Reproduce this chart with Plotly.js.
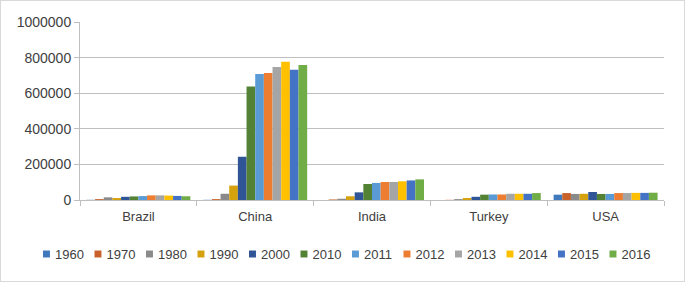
<!DOCTYPE html>
<html>
<head>
<meta charset="utf-8">
<script src="https://cdn.plot.ly/plotly-3.0.1.min.js"></script>
<style>
  html, body { margin: 0; padding: 0; background: #fff; }
  #wrap { position: relative; width: 685px; height: 282px; }
  #chart { width: 685px; height: 282px; }
  #frame { position: absolute; left: 0; top: 0; width: 685px; height: 282px; box-sizing: border-box; border: 1px solid #D9D9D9; pointer-events: none; }
</style>
</head>
<body>
<div id="wrap"><div id="chart"></div><div id="frame"></div></div>
<script>
const countries = ["Brazil", "China", "India", "Turkey", "USA"];
const years = ["1960", "1970", "1980", "1990", "2000", "2010", "2011", "2012", "2013", "2014", "2015", "2016"];
const v1960 = [1000, 1000, 0, 0, 30000];
const v1970 = [5000, 5000, 3000, 1000, 39000];
const v1980 = [15000, 35000, 7000, 5000, 34000];
const v1990 = [11000, 81000, 21000, 11000, 35000];
const v2000 = [18000, 243000, 43000, 18000, 45000];
const v2010 = [20000, 638000, 90000, 30000, 34000];
const v2011 = [22000, 708000, 96000, 31000, 34000];
const v2012 = [26000, 713000, 101000, 31000, 39000];
const v2013 = [26000, 747000, 101000, 35000, 39000];
const v2014 = [25000, 776000, 105000, 35000, 40000];
const v2015 = [23000, 732000, 110000, 35000, 40000];
const v2016 = [21000, 758000, 116000, 39000, 41000];
const seriesValues = [v1960, v1970, v1980, v1990, v2000, v2010, v2011, v2012, v2013, v2014, v2015, v2016];
const colors = ["#4179BD", "#C9622A", "#8A8A8A", "#D5A20E", "#2F5597", "#548235",
                "#5B9BD5", "#ED7D31", "#A5A5A5", "#FFC000", "#4472C4", "#70AD47"];
const yTicks = [0, 200000, 400000, 600000, 800000, 1000000];

const traces = years.map((y, i) => ({
  type: "bar",
  name: y,
  x: countries,
  y: seriesValues[i],
  marker: { color: colors[i], line: { width: 0 } },
  hoverinfo: "x+y+name"
}));

const font = { family: "Liberation Sans, Arial, sans-serif", size: 13, color: "#404040" };
const yfont = { family: "Liberation Sans, Arial, sans-serif", size: 14, color: "#404040" };

const layout = {
  width: 685,
  height: 282,
  margin: { l: 80, r: 21, t: 22, b: 82, autoexpand: false },
  paper_bgcolor: "#ffffff",
  plot_bgcolor: "#ffffff",
  font: font,
  barmode: "group",
  bargap: 0.11,
  bargroupgap: 0,
  showlegend: true,
  legend: {
    orientation: "h",
    xref: "container", yref: "container",
    x: 0, xanchor: "left",
    y: 0.1, yanchor: "middle",
    font: font,
    bgcolor: "rgba(0,0,0,0)",
    entrywidth: 6.5,
    entrywidthmode: "pixels",
    traceorder: "normal"
  },
  xaxis: {
    type: "category",
    showgrid: false,
    showline: true,
    linecolor: "#BFBFBF",
    linewidth: 1,
    ticks: "outside",
    tickson: "boundaries",
    ticklen: 5,
    tickcolor: "#BFBFBF",
    tickfont: font,
    ticklabelstandoff: 4,
    zeroline: false,
    fixedrange: true
  },
  yaxis: {
    range: [0, 1000000],
    tickvals: yTicks,
    ticktext: yTicks.map(String),
    showgrid: true,
    gridcolor: "#BFBFBF",
    gridwidth: 1,
    showline: true,
    linecolor: "#BFBFBF",
    ticks: "outside",
    ticklen: 5,
    tickcolor: "#BFBFBF",
    tickfont: yfont,
    zeroline: false,
    fixedrange: true
  }
};

Plotly.newPlot("chart", traces, layout, { displayModeBar: false, staticPlot: true }).then(gd => {
  const leg = gd.querySelector(".legend");
  if (!leg) return;
  leg.querySelectorAll("[clip-path]").forEach(el => el.removeAttribute("clip-path"));
  const items = Array.from(leg.querySelectorAll(".traces"));
  const step = 51.5;
  items.forEach((g, i) => {
    g.setAttribute("transform", "translate(" + (i * step) + ",0)");
    const t = g.querySelector("text.legendtext");
    if (t) t.setAttribute("x", "28.5");
    g.querySelectorAll(".legendpoints path").forEach(p => {
      p.setAttribute("transform", "translate(20,0) scale(0.58)");
    });
  });
  const first = leg.querySelector(".traces .legendpoints path");
  if (first) {
    const r = first.getBoundingClientRect();
    const dx = 43 - r.left;
    const dy = 254 - (r.top + r.height / 2);
    const tr = leg.getAttribute("transform") || "";
    leg.setAttribute("transform", tr + " translate(" + dx + "," + dy + ")");
  }
});
</script>
</body>
</html>
